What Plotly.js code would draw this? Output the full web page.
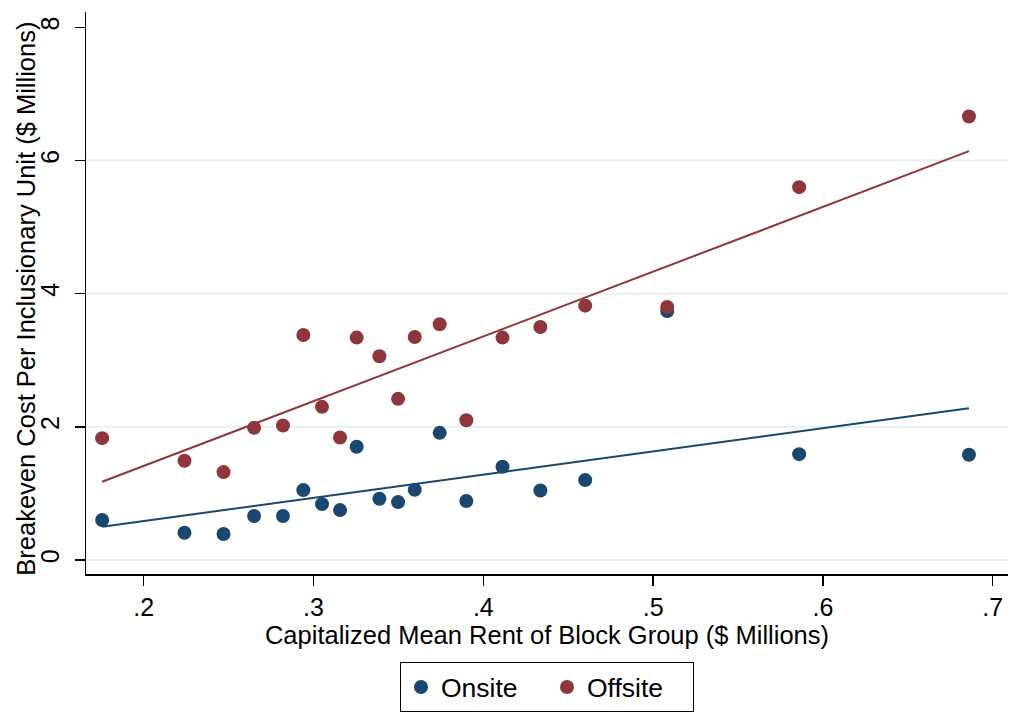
<!DOCTYPE html>
<html>
<head>
<meta charset="utf-8">
<script src="https://cdn.plot.ly/plotly-3.0.1.min.js"></script>
<style>html,body{margin:0;padding:0;background:#fff;}#chart{width:1010px;height:714px;}</style>
</head>
<body>
<div id="chart"></div>
<script>
// Capitalized mean rent of block group ($ millions)
const rent = [0.1755, 0.224, 0.247, 0.265, 0.282, 0.294, 0.305, 0.3156, 0.3254, 0.3388,
              0.3498, 0.3596, 0.3743, 0.390, 0.4113, 0.4336, 0.46, 0.5083, 0.586, 0.686];
// Breakeven cost per inclusionary unit ($ millions)
const onsite = [0.60, 0.41, 0.39, 0.66, 0.66, 1.05, 0.84, 0.75, 1.70, 0.92,
                0.87, 1.055, 1.91, 0.886, 1.40, 1.045, 1.20, 3.74, 1.59, 1.58];
const offsite = [1.83, 1.49, 1.32, 1.985, 2.02, 3.38, 2.30, 1.84, 3.34, 3.06,
                 2.42, 3.35, 3.54, 2.10, 3.34, 3.50, 3.82, 3.80, 5.60, 6.66];
// Linear fit endpoints
const fitX = [0.1755, 0.686];
const onsiteFit = [0.50, 2.28];
const offsiteFit = [1.175, 6.14];
// Axis ticks
const xTickVals = [0.2, 0.3, 0.4, 0.5, 0.6, 0.7];
const xTickText = ['.2', '.3', '.4', '.5', '.6', '.7'];
const yTickVals = [0, 2, 4, 6, 8];
const gridVals = [0, 2, 4, 6];

const navy = '#1a476f';
const maroon = '#90353b';
const font = 'Liberation Sans, Arial, Helvetica, sans-serif';

const traces = [
  {x: rent, y: onsite, type: 'scatter', mode: 'markers', name: 'Onsite',
   marker: {color: navy, size: 14}},
  {x: rent, y: offsite, type: 'scatter', mode: 'markers', name: 'Offsite',
   marker: {color: maroon, size: 14}},
  {x: fitX, y: onsiteFit, type: 'scatter', mode: 'lines', showlegend: false,
   line: {color: navy, width: 2}, hoverinfo: 'skip'},
  {x: fitX, y: offsiteFit, type: 'scatter', mode: 'lines', showlegend: false,
   line: {color: maroon, width: 2}, hoverinfo: 'skip'}
];

const shapes = gridVals.map(v => ({
  type: 'line', xref: 'paper', x0: 0, x1: 1, yref: 'y', y0: v, y1: v,
  line: {color: '#e7eff2', width: 2}, layer: 'below'
}));

const layout = {
  width: 1010, height: 714,
  margin: {l: 86, r: 2, t: 12, b: 136},
  paper_bgcolor: '#ffffff', plot_bgcolor: '#ffffff',
  font: {family: font, size: 26, color: '#000'},
  showlegend: true,
  shapes: shapes,
  annotations: [{
    text: 'Breakeven Cost Per Inclusionary Unit ($ Millions)',
    xref: 'paper', yref: 'paper', x: -0.0645, y: 0.489,
    xanchor: 'center', yanchor: 'middle', textangle: -90,
    showarrow: false, font: {size: 25.5}
  }],
  xaxis: {
    range: [0.166, 0.709],
    tickvals: xTickVals, ticktext: xTickText,
    ticks: 'outside', ticklen: 10, tickwidth: 1.5, tickcolor: '#000',
    showline: true, linecolor: '#000', linewidth: 1.5,
    showgrid: false, zeroline: false,
    tickfont: {size: 25},
    title: {text: 'Capitalized Mean Rent of Block Group ($ Millions)', font: {size: 25.5}, standoff: 6}
  },
  yaxis: {
    range: [-0.21, 8.23],
    tickvals: yTickVals,
    tickangle: -90,
    ticklabelstandoff: 6,
    ticks: 'outside', ticklen: 10, tickwidth: 1.5, tickcolor: '#000',
    showline: true, linecolor: '#000', linewidth: 1.5,
    showgrid: false, zeroline: false,
    tickfont: {size: 25}
  },
  legend: {
    orientation: 'h', x: 0.5, xanchor: 'center', y: -0.157, yanchor: 'top',
    bordercolor: '#000', borderwidth: 1, font: {size: 26.5},
    bgcolor: '#fff', entrywidth: 101, entrywidthmode: 'pixels'
  }
};

Plotly.newPlot('chart', traces, layout, {displayModeBar: false, staticPlot: true});
</script>
</body>
</html>
